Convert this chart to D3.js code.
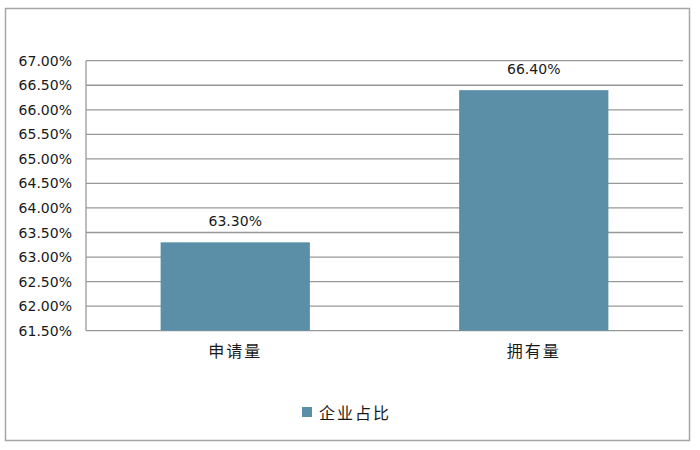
<!DOCTYPE html>
<html><head><meta charset="utf-8">
<script src="https://cdn.jsdelivr.net/npm/d3@7"></script>
<style>body{margin:0;background:#fff}</style>
</head><body>
<svg id="c" width="700" height="450"></svg>
<script>
const categories = ["申请量", "拥有量"];
const values = [63.30, 66.40];
const seriesName = "企业占比";
const yTicks = [61.5, 62, 62.5, 63, 63.5, 64, 64.5, 65, 65.5, 66, 66.5, 67];

const svg = d3.select("#c");
const font = "'DejaVu Sans', 'Noto Sans CJK SC', sans-serif";
const cjk = "'Noto Sans CJK SC', sans-serif";
const L = 86, R = 683, T = 60.7, B = 330.7;

svg.append("rect").attr("x", 5.5).attr("y", 8.5).attr("width", 684).attr("height", 432)
  .attr("fill", "#fff").attr("stroke", "#a6a6a6").attr("stroke-width", 1.5);

const x = d3.scaleBand().domain(categories).range([L, R]).paddingInner(0.5).paddingOuter(0.25);
const y = d3.scaleLinear().domain([61.5, 67]).range([B, T]);

const g = svg.append("g");
g.selectAll("line.grid").data(yTicks).join("line")
  .attr("x1", L).attr("x2", R).attr("y1", d => y(d)).attr("y2", d => y(d))
  .attr("stroke", "#989898").attr("stroke-width", 1.3);
g.append("line").attr("x1", L).attr("x2", L).attr("y1", T).attr("y2", B)
  .attr("stroke", "#989898").attr("stroke-width", 1.3);

const yAxis = d3.axisLeft(y).tickValues(yTicks).tickSize(0).tickPadding(14)
  .tickFormat(d => d.toFixed(2) + "%");
const ya = svg.append("g").attr("transform", `translate(${L},0)`).call(yAxis);
ya.select(".domain").remove();
ya.selectAll("text").attr("font-family", font).attr("font-size", 14).attr("fill", "#1a1a1a");

svg.selectAll("rect.bar").data(values).join("rect").attr("class", "bar")
  .attr("x", (d, i) => x(categories[i])).attr("width", x.bandwidth())
  .attr("y", d => y(d)).attr("height", d => B - y(d))
  .attr("fill", "#5b8fa8");

svg.selectAll("text.val").data(values).join("text").attr("class", "val")
  .attr("x", (d, i) => x(categories[i]) + x.bandwidth() / 2)
  .attr("y", d => y(d) - 16)
  .attr("text-anchor", "middle").attr("font-family", font).attr("font-size", 14).attr("fill", "#1a1a1a")
  .text(d => d.toFixed(2) + "%");

const xAxis = d3.axisBottom(x).tickSize(0).tickPadding(15);
const xa = svg.append("g").attr("transform", `translate(0,${B})`).call(xAxis);
xa.select(".domain").remove();
xa.selectAll("text").attr("font-family", cjk).attr("font-size", 16).attr("letter-spacing", 2)
  .attr("fill", "#1a1a1a");

const lg = svg.append("g");
lg.append("rect").attr("x", 302).attr("y", 407).attr("width", 10).attr("height", 10).attr("fill", "#5b8fa8");
lg.append("text").attr("x", 319).attr("y", 419).attr("font-family", cjk).attr("font-size", 16)
  .attr("letter-spacing", 2).attr("fill", "#1a1a1a").text(seriesName);
</script>
</body></html>
